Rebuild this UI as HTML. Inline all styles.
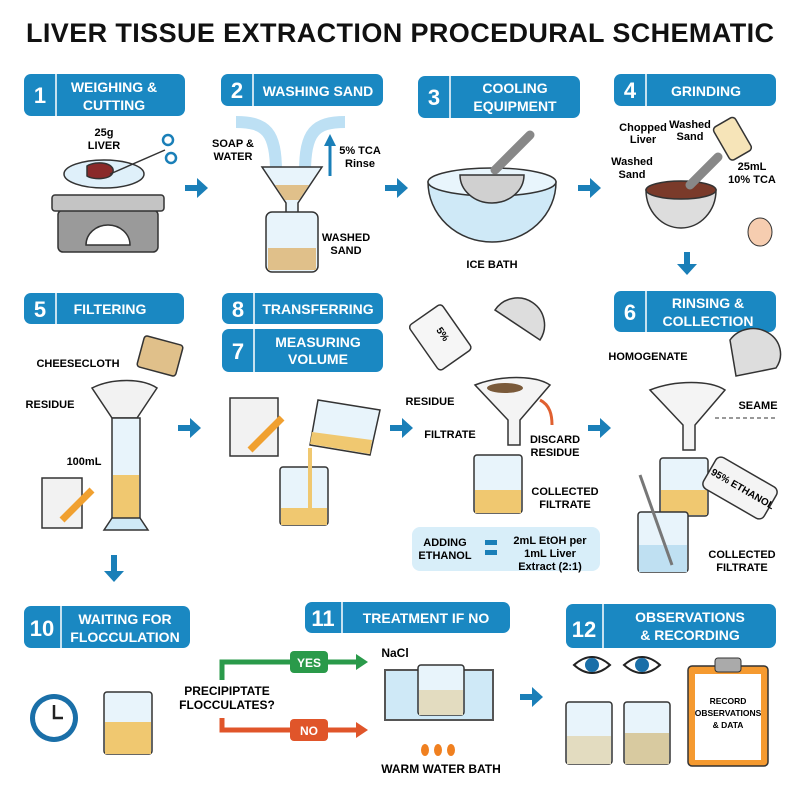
<!DOCTYPE html>
<html><head><meta charset="utf-8"><style>
body{margin:0;background:#fff}
svg{display:block}
text{font-family:"Liberation Sans",sans-serif;font-weight:bold}
</style></head><body>
<svg width="800" height="800" viewBox="0 0 800 800" xmlns="http://www.w3.org/2000/svg">
<defs>
<marker id="ah" viewBox="0 0 10 10" refX="5" refY="5" markerWidth="4" markerHeight="4" orient="auto"><path d="M0,0L10,5L0,10z" fill="#1a7fb8"/></marker>
</defs>
<rect width="800" height="800" fill="#fff"/>
<text x="400" y="42" font-size="27" text-anchor="middle" fill="#111" style="font-weight:900" textLength="748">LIVER TISSUE EXTRACTION PROCEDURAL SCHEMATIC</text>

<g fill="#1a88c2">
<rect x="24" y="74" width="161" height="42" rx="7"/>
<rect x="221" y="74" width="162" height="32" rx="7"/>
<rect x="418" y="76" width="162" height="42" rx="7"/>
<rect x="614" y="74" width="162" height="32" rx="7"/>
<rect x="24" y="293" width="160" height="31" rx="7"/>
<rect x="222" y="293" width="161" height="31" rx="7"/>
<rect x="222" y="329" width="161" height="43" rx="7"/>
<rect x="614" y="291" width="162" height="41" rx="7"/>
<rect x="24" y="606" width="166" height="42" rx="7"/>
<rect x="305" y="602" width="205" height="31" rx="7"/>
<rect x="566" y="604" width="210" height="44" rx="7"/>
</g>
<g stroke="#fff" stroke-width="1.5">
<line x1="56" y1="74" x2="56" y2="116"/><line x1="253" y1="74" x2="253" y2="106"/>
<line x1="450" y1="76" x2="450" y2="118"/><line x1="646" y1="74" x2="646" y2="106"/>
<line x1="56" y1="293" x2="56" y2="324"/><line x1="254" y1="293" x2="254" y2="324"/>
<line x1="254" y1="329" x2="254" y2="372"/><line x1="646" y1="291" x2="646" y2="332"/>
<line x1="61" y1="606" x2="61" y2="648"/><line x1="342" y1="602" x2="342" y2="633"/>
<line x1="603" y1="604" x2="603" y2="648"/>
</g>
<g fill="#fff" font-size="22" text-anchor="middle">
<text x="40" y="103">1</text><text x="237" y="98">2</text><text x="434" y="105">3</text><text x="630" y="98">4</text>
<text x="40" y="317">5</text><text x="238" y="317">8</text><text x="238" y="359">7</text><text x="630" y="320">6</text>
<text x="42" y="636">10</text><text x="323" y="626">11</text><text x="584" y="637">12</text>
</g>
<g fill="#fff" font-size="14" text-anchor="middle">
<text x="114" y="92">WEIGHING &amp;</text><text x="114" y="110">CUTTING</text>
<text x="318" y="96">WASHING SAND</text>
<text x="515" y="93">COOLING</text><text x="515" y="111">EQUIPMENT</text>
<text x="706" y="96">GRINDING</text>
<text x="110" y="314">FILTERING</text>
<text x="318" y="314">TRANSFERRING</text>
<text x="318" y="347">MEASURING</text><text x="318" y="364">VOLUME</text>
<text x="708" y="308">RINSING &amp;</text><text x="708" y="326">COLLECTION</text>
<text x="125" y="624">WAITING FOR</text><text x="125" y="642">FLOCCULATION</text>
<text x="426" y="623">TREATMENT IF NO</text>
<text x="690" y="622">OBSERVATIONS</text><text x="690" y="640">&amp; RECORDING</text>
</g>

<!-- arrows -->
<g fill="#1a7fb8">
<path d="M185,185h12v-7l11,10l-11,10v-7h-12z"/>
<path d="M385,185h12v-7l11,10l-11,10v-7h-12z"/>
<path d="M578,185h12v-7l11,10l-11,10v-7h-12z"/>
<path d="M684,252v12h-7l10,11l10,-11h-7v-12z"/>
<path d="M178,425h12v-7l11,10l-11,10v-7h-12z"/>
<path d="M390,425h12v-7l11,10l-11,10v-7h-12z"/>
<path d="M588,425h12v-7l11,10l-11,10v-7h-12z"/>
<path d="M111,555v16h-7l10,11l10,-11h-7v-16z"/>
<path d="M520,694h12v-7l11,10l-11,10v-7h-12z"/>
</g>

<!-- Step1 scale -->
<g stroke="#333" stroke-width="1.5">
<rect x="58" y="210" width="100" height="42" rx="5" fill="#9a9a9a"/>
<rect x="52" y="195" width="112" height="16" rx="3" fill="#c4c4c4"/>
<path d="M86,245a22,20 0 0 1 44,0z" fill="#fff"/>
<ellipse cx="104" cy="174" rx="40" ry="14" fill="#dff0fa"/>
<path d="M87,166c10,-6 28,-3 26,6c-2,8 -20,8 -26,4z" fill="#8a2a2a"/>
<line x1="110" y1="174" x2="165" y2="150"/>
<circle cx="168" cy="140" r="5" fill="none" stroke="#1a7fb8" stroke-width="2.5"/>
<circle cx="171" cy="158" r="5" fill="none" stroke="#1a7fb8" stroke-width="2.5"/>
</g>
<text x="104" y="136" font-size="11" text-anchor="middle">25g</text>
<text x="104" y="149" font-size="11" text-anchor="middle">LIVER</text>

<!-- Step2 -->
<path d="M236,122c30,0 40,10 40,50M345,122c-30,0 -40,10 -40,50" stroke="#bde0f4" stroke-width="12" fill="none"/>
<path d="M262,167h60l-24,36v25h-12v-25z" fill="#e8f4fb" stroke="#333" stroke-width="1.5"/>
<path d="M275,185h34l-10,15h-14z" fill="#e0c08a"/>
<rect x="266" y="212" width="52" height="60" rx="6" fill="#e8f4fb" stroke="#333" stroke-width="1.5"/>
<rect x="268" y="248" width="48" height="22" fill="#e0c08a"/>
<path d="M330,176v-36" stroke="#1a7fb8" stroke-width="3" marker-end="url(#ah)"/>
<g font-size="11" text-anchor="middle">
<text x="233" y="147">SOAP &amp;</text><text x="233" y="160">WATER</text>
<text x="360" y="154">5% TCA</text><text x="360" y="167">Rinse</text>
<text x="346" y="241">WASHED</text><text x="346" y="254">SAND</text>
<text x="492" y="268">ICE BATH</text>
</g>

<!-- Step3 -->
<path d="M428,182h128a64,60 0 0 1 -128,0z" fill="#cfe9f7" stroke="#333" stroke-width="1.5"/>
<ellipse cx="492" cy="182" rx="64" ry="14" fill="#e8f5fc" stroke="#333" stroke-width="1.5"/>
<path d="M460,175a32,28 0 0 0 64,0z" fill="#d0d0d0" stroke="#333" stroke-width="1.5"/>
<path d="M495,170l35,-35" stroke="#888" stroke-width="9" stroke-linecap="round"/>

<!-- Step4 -->
<text x="643" y="131" font-size="11" text-anchor="middle">Chopped</text>
<text x="643" y="143" font-size="11" text-anchor="middle">Liver</text>
<text x="690" y="128" font-size="11" text-anchor="middle">Washed</text>
<text x="690" y="140" font-size="11" text-anchor="middle">Sand</text>
<text x="632" y="165" font-size="11" text-anchor="middle">Washed</text>
<text x="632" y="178" font-size="11" text-anchor="middle">Sand</text>
<text x="752" y="170" font-size="11" text-anchor="middle">25mL</text>
<text x="752" y="183" font-size="11" text-anchor="middle">10% TCA</text>
<rect x="720" y="120" width="25" height="38" rx="4" fill="#f6e4b8" stroke="#333" stroke-width="1.5" transform="rotate(-30 732 139)"/>
<path d="M646,190h70a35,38 0 0 1 -70,0z" fill="#ddd" stroke="#333" stroke-width="1.5"/>
<ellipse cx="681" cy="190" rx="35" ry="9" fill="#7a3a2a" stroke="#333" stroke-width="1.5"/>
<path d="M690,185l28,-28" stroke="#888" stroke-width="9" stroke-linecap="round"/>
<ellipse cx="760" cy="232" rx="12" ry="14" fill="#f6cdb0" stroke="#333"/>

<!-- Step5 -->
<text x="78" y="367" font-size="11" text-anchor="middle">CHEESECLOTH</text>
<text x="50" y="408" font-size="11" text-anchor="middle">RESIDUE</text>
<text x="84" y="465" font-size="11" text-anchor="middle">100mL</text>
<path d="M92,388c20,-10 50,-10 65,0l-20,30h-25z" fill="#f2f2f2" stroke="#333" stroke-width="1.5"/>
<rect x="140" y="340" width="40" height="32" rx="3" fill="#e0c08a" stroke="#333" stroke-width="1.5" transform="rotate(15 160 356)"/>
<rect x="112" y="418" width="28" height="100" fill="#e8f4fb" stroke="#333" stroke-width="1.5"/>
<rect x="113" y="475" width="26" height="43" fill="#f0c870"/>
<path d="M104,530l8,-12h28l8,12z" fill="#cfe9f7" stroke="#333" stroke-width="1.5"/>
<rect x="42" y="478" width="40" height="50" fill="#f2f2f2" stroke="#333" stroke-width="1.5"/>
<path d="M62,520l30,-30" stroke="#f0a030" stroke-width="7"/>

<!-- Step 7/8 -->
<rect x="230" y="398" width="48" height="58" fill="#f2f2f2" stroke="#333" stroke-width="1.5"/>
<path d="M250,450l32,-32" stroke="#f0a030" stroke-width="7"/>
<path d="M318,400l62,10l-10,45l-60,-10z" fill="#e8f4fb" stroke="#333" stroke-width="1.5"/>
<path d="M312,432l60,8l-2,14l-60,-10z" fill="#f0c870"/>
<rect x="280" y="467" width="48" height="58" rx="3" fill="#e8f4fb" stroke="#333" stroke-width="1.5"/>
<rect x="281" y="508" width="46" height="17" fill="#f0c870"/>
<path d="M310,448v62" stroke="#f0c870" stroke-width="4"/>

<!-- middle filter -->
<rect x="420" y="310" width="40" height="55" rx="4" fill="#f6f6f6" stroke="#333" stroke-width="1.5" transform="rotate(-35 440 337)"/>
<text x="440" y="336" font-size="10" text-anchor="middle" transform="rotate(55 440 336)">5%</text>
<path d="M495,310a25,25 0 0 1 45,30z" fill="#ddd" stroke="#333" stroke-width="1.5"/>
<path d="M475,385c25,-10 60,-10 75,0l-30,35v25h-12v-25z" fill="#f4f4f4" stroke="#333" stroke-width="1.5"/>
<ellipse cx="505" cy="388" rx="18" ry="5" fill="#7a5a3a"/>
<path d="M540,400c10,5 12,15 12,25" stroke="#e06030" stroke-width="3" fill="none"/>
<rect x="474" y="455" width="48" height="58" rx="3" fill="#e8f4fb" stroke="#333" stroke-width="1.5"/>
<rect x="475" y="490" width="46" height="23" fill="#f0c870"/>
<g font-size="11" text-anchor="middle">
<text x="430" y="405">RESIDUE</text><text x="450" y="438">FILTRATE</text>
<text x="555" y="443">DISCARD</text><text x="555" y="456">RESIDUE</text>
<text x="565" y="495">COLLECTED</text><text x="565" y="508">FILTRATE</text>
<text x="648" y="360">HOMOGENATE</text><text x="758" y="409">SEAME</text>
<text x="742" y="558">COLLECTED</text><text x="742" y="571">FILTRATE</text>
</g>
<!-- adding ethanol box -->
<rect x="412" y="527" width="188" height="44" rx="8" fill="#d8eef9"/>
<g font-size="11" text-anchor="middle">
<text x="445" y="546">ADDING</text><text x="445" y="559">ETHANOL</text>
<text x="550" y="544">2mL EtOH per</text><text x="550" y="557">1mL Liver</text><text x="550" y="570">Extract (2:1)</text>
</g>
<rect x="485" y="540" width="12" height="5" fill="#1a7fb8"/><rect x="485" y="550" width="12" height="5" fill="#1a7fb8"/>

<!-- Step 6 -->
<path d="M650,390c25,-10 60,-10 75,0l-30,35v25h-12v-25z" fill="#f4f4f4" stroke="#333" stroke-width="1.5"/>
<path d="M730,340a26,24 0 0 1 46,28l-40,8z" fill="#ddd" stroke="#333" stroke-width="1.5"/>
<line x1="715" y1="418" x2="775" y2="418" stroke="#333" stroke-dasharray="4 3"/>
<rect x="660" y="458" width="48" height="58" rx="3" fill="#e8f4fb" stroke="#333" stroke-width="1.5"/>
<rect x="661" y="490" width="46" height="25" fill="#f0c870"/>
<rect x="705" y="470" width="70" height="36" rx="6" fill="#f4f4f4" stroke="#333" stroke-width="1.5" transform="rotate(30 740 488)"/>
<text x="742" y="492" font-size="10" text-anchor="middle" transform="rotate(30 742 490)">95% ETHANOL</text>
<rect x="638" y="512" width="50" height="60" rx="3" fill="#e8f4fb" stroke="#333" stroke-width="1.5"/>
<rect x="639" y="545" width="48" height="27" fill="#bfe0f2"/>
<line x1="640" y1="475" x2="672" y2="565" stroke="#777" stroke-width="3"/>

<!-- Step 10 -->
<circle cx="54" cy="718" r="24" fill="#1a6fa8"/><circle cx="54" cy="718" r="19" fill="#fff"/>
<path d="M54,705v13h9" stroke="#222" stroke-width="2.5" fill="none"/>
<rect x="104" y="692" width="48" height="62" rx="3" fill="#e8f4fb" stroke="#333" stroke-width="1.5"/>
<rect x="105" y="722" width="46" height="32" fill="#f0c870"/>

<!-- Step 11 -->
<text x="227" y="695" font-size="12" text-anchor="middle">PRECIPIPTATE</text>
<text x="227" y="709" font-size="12" text-anchor="middle">FLOCCULATES?</text>
<path d="M222,680v-18h135" stroke="#2a9a4a" stroke-width="5" fill="none"/>
<path d="M356,654l12,8l-12,8z" fill="#2a9a4a"/>
<rect x="290" y="651" width="38" height="22" rx="4" fill="#2a9a4a"/>
<text x="309" y="667" font-size="12" fill="#fff" text-anchor="middle">YES</text>
<path d="M222,718v12h135" stroke="#e0552a" stroke-width="5" fill="none"/>
<path d="M356,722l12,8l-12,8z" fill="#e0552a"/>
<rect x="290" y="719" width="38" height="22" rx="4" fill="#e0552a"/>
<text x="309" y="735" font-size="12" fill="#fff" text-anchor="middle">NO</text>
<text x="395" y="657" font-size="12" text-anchor="middle">NaCl</text>
<path d="M385,670h108v50h-108z" fill="#cfe9f7" stroke="#555" stroke-width="2"/>
<rect x="418" y="665" width="46" height="50" rx="3" fill="#e8f4fb" stroke="#333" stroke-width="1.5"/>
<rect x="419" y="690" width="44" height="25" fill="#e3dcc0"/>
<g fill="#f08020"><ellipse cx="425" cy="750" rx="4" ry="6"/><ellipse cx="438" cy="750" rx="4" ry="6"/><ellipse cx="451" cy="750" rx="4" ry="6"/></g>
<text x="441" y="773" font-size="12" text-anchor="middle">WARM WATER BATH</text>

<!-- Step 12 -->
<g stroke="#222" stroke-width="2"><path d="M574,665q18,-16 36,0q-18,16 -36,0z" fill="#fff"/><path d="M624,665q18,-16 36,0q-18,16 -36,0z" fill="#fff"/></g>
<circle cx="592" cy="665" r="7" fill="#1a6fa8"/><circle cx="642" cy="665" r="7" fill="#1a6fa8"/>
<rect x="566" y="702" width="46" height="62" rx="3" fill="#e8f4fb" stroke="#333" stroke-width="1.5"/>
<rect x="567" y="736" width="44" height="28" fill="#e3dcc0"/>
<rect x="624" y="702" width="46" height="62" rx="3" fill="#e8f4fb" stroke="#333" stroke-width="1.5"/>
<rect x="625" y="733" width="44" height="31" fill="#d8caa0"/>
<rect x="688" y="666" width="80" height="100" rx="4" fill="#f59a30" stroke="#333" stroke-width="1.5"/>
<rect x="695" y="674" width="66" height="86" fill="#fff"/>
<rect x="715" y="658" width="26" height="14" rx="3" fill="#aaa" stroke="#333"/>
<g font-size="8.5" text-anchor="middle"><text x="728" y="704">RECORD</text><text x="728" y="716">OBSERVATIONS</text><text x="728" y="728">&amp; DATA</text></g>
</svg>
</body></html>
